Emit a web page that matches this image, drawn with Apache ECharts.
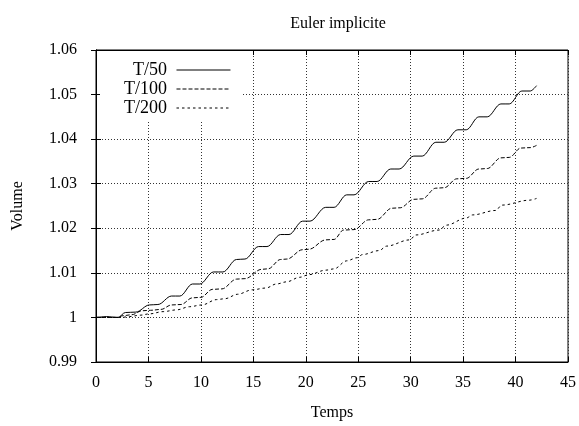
<!DOCTYPE html>
<html>
<head>
    <meta charset="utf-8">
    <title>Euler implicite</title>
    <script src="https://cdn.jsdelivr.net/npm/echarts@6/dist/echarts.min.js"></script>
    <style>
        html, body { margin: 0; padding: 0; background: #fff; }
        #chart { width: 579px; height: 426px; }
    </style>
</head>
<body>
<div id="chart"></div>
<script>
    // courbes : [temps, volume]
    var seriesNames = ['T/50', 'T/100', 'T/200'];

    var t50 = [
        [0, 1.0], [0.5, 1.0001], [1.0, 1.0002], [1.5, 1.0001], [2.1, 1.0],
        [2.8, 1.0011], [3.8, 1.0012], [5.1, 1.0028], [5.9, 1.0029],
        [7.2, 1.0048], [8.0, 1.0048], [9.2, 1.0075], [9.9, 1.0075],
        [11.2, 1.0102], [12.1, 1.0102], [13.4, 1.013], [14.2, 1.0131],
        [15.5, 1.0159], [16.3, 1.0159], [17.6, 1.0186], [18.4, 1.0186],
        [19.7, 1.0216], [20.4, 1.0216], [21.9, 1.0247], [22.7, 1.0247],
        [23.9, 1.0275], [24.6, 1.0275], [26.0, 1.0305], [26.8, 1.0305],
        [28.1, 1.0333], [28.9, 1.0333], [30.3, 1.0362], [31.1, 1.0362],
        [32.4, 1.0393], [33.2, 1.0393], [34.5, 1.0421], [35.3, 1.0421],
        [36.5, 1.045], [37.3, 1.045], [38.6, 1.0479], [39.4, 1.0479],
        [40.6, 1.0508], [41.4, 1.0508], [42, 1.052]
    ];

    var t100 = [
        [0, 1.0], [2.0, 1.0], [2.6, 1.0004], [3.4, 1.0006], [4.4, 1.0015],
        [5.2, 1.0016], [6.2, 1.0018], [7.2, 1.0028], [8.1, 1.0029],
        [9.2, 1.0044], [10.0, 1.0045], [11.1, 1.0063], [12.0, 1.0064],
        [13.4, 1.0086], [14.2, 1.0087], [15.8, 1.0108], [16.4, 1.0109],
        [17.6, 1.013], [18.2, 1.0131], [19.7, 1.0152], [20.3, 1.0153],
        [21.9, 1.0174], [22.7, 1.0175], [23.6, 1.0196], [24.6, 1.0197],
        [26.0, 1.0219], [26.8, 1.022], [28.2, 1.0245], [29.0, 1.0246],
        [30.3, 1.0265], [31.1, 1.0266], [32.4, 1.029], [33.2, 1.0291],
        [34.4, 1.0311], [35.3, 1.0312], [36.5, 1.0333], [37.3, 1.0334],
        [38.6, 1.0358], [39.4, 1.0359], [40.5, 1.038], [41.4, 1.0381],
        [42, 1.0386]
    ];

    var t200 = [
        [0, 1.0], [2.4, 1.0], [3.2, 1.0002], [4.2, 1.0005], [5.1, 1.0008],
        [6.4, 1.0013], [7.7, 1.0017], [8.9, 1.0024], [10.1, 1.0028],
        [11.5, 1.004], [12.3, 1.0042], [13.5, 1.0052], [14.9, 1.0062],
        [16.2, 1.0066], [17.2, 1.0075], [18.2, 1.008], [19.4, 1.009],
        [20.3, 1.0096], [21.9, 1.0106], [22.7, 1.0109], [23.9, 1.0127],
        [24.9, 1.0134], [25.4, 1.0141], [27.0, 1.015], [27.7, 1.016],
        [29.9, 1.0174], [30.5, 1.0185], [32.7, 1.0196], [33.4, 1.0207],
        [35.3, 1.0223], [35.9, 1.023], [38.1, 1.024], [38.7, 1.0252],
        [41.3, 1.0263], [42, 1.0267]
    ];

    var lineTypes = ['solid', [4, 2], [2.5, 3]];
    var serif = '"Liberation Serif", "DejaVu Serif", serif';

    var chart = echarts.init(document.getElementById('chart'));

    function makeSeries(name, data, type) {
        return {
            name: name,
            type: 'line',
            data: data,
            symbol: 'none',
            showSymbol: false,
            smooth: 0.35,
            smoothMonotone: 'x',
            lineStyle: {color: '#000', width: 1, type: type},
            itemStyle: {color: '#000'}
        };
    }

    var gridDots = {show: true, lineStyle: {color: '#333', width: 1, type: [1, 2]}};

    var option = {
        animation: false,
        backgroundColor: '#fff',
        title: {
            text: 'Euler implicite',
            left: 333,
            textAlign: 'center',
            top: 11,
            textStyle: {fontFamily: serif, fontSize: 16, fontWeight: 'normal', color: '#000'}
        },
        grid: {
            left: 96, right: 9, top: 50, bottom: 60,
            show: true, borderColor: '#000', borderWidth: 1, backgroundColor: 'transparent'
        },
        legend: {
            orient: 'vertical',
            align: 'right',
            left: 100,
            top: 51,
            padding: [10, 11, 3, 24],
            backgroundColor: '#fff',
            itemWidth: 54,
            itemHeight: 14,
            itemGap: 1,
            data: seriesNames,
            formatter: function (name) { return name + ' '; },
            itemStyle: {opacity: 0},
            lineStyle: {width: 1},
            textStyle: {fontFamily: serif, fontSize: 18, color: '#000'}
        },
        xAxis: [{
            type: 'value',
            min: 0, max: 45, interval: 5,
            name: 'Temps',
            nameLocation: 'middle',
            nameGap: 43,
            nameTextStyle: {fontFamily: serif, fontSize: 16, color: '#000'},
            axisLine: {lineStyle: {color: '#000'}},
            axisTick: {inside: true, length: 5, lineStyle: {color: '#000'}},
            axisLabel: {fontFamily: serif, fontSize: 16, color: '#000', margin: 13},
            splitLine: gridDots
        }, {
            type: 'value',
            position: 'top',
            min: 0, max: 45, interval: 5,
            axisLine: {lineStyle: {color: '#000'}},
            axisTick: {inside: true, length: 5, lineStyle: {color: '#000'}},
            axisLabel: {show: false},
            splitLine: {show: false}
        }],
        yAxis: [{
            type: 'value',
            min: 0.99, max: 1.06, interval: 0.01,
            name: 'Volume',
            nameLocation: 'middle',
            nameGap: 70,
            nameTextStyle: {fontFamily: serif, fontSize: 16, color: '#000'},
            axisLine: {lineStyle: {color: '#000'}},
            axisTick: {inside: true, length: 5, lineStyle: {color: '#000'}},
            axisLabel: {
                fontFamily: serif, fontSize: 16, color: '#000', margin: 19,
                formatter: function (v) { return String(+v.toFixed(2)); }
            },
            splitLine: gridDots
        }, {
            type: 'value',
            position: 'right',
            min: 0.99, max: 1.06, interval: 0.01,
            axisLine: {lineStyle: {color: '#000'}},
            axisTick: {inside: true, length: 5, lineStyle: {color: '#000'}},
            axisLabel: {show: false},
            splitLine: {show: false}
        }],
        series: [
            makeSeries(seriesNames[0], t50, lineTypes[0]),
            makeSeries(seriesNames[1], t100, lineTypes[1]),
            makeSeries(seriesNames[2], t200, lineTypes[2])
        ]
    };

    chart.setOption(option);
</script>
</body>
</html>
